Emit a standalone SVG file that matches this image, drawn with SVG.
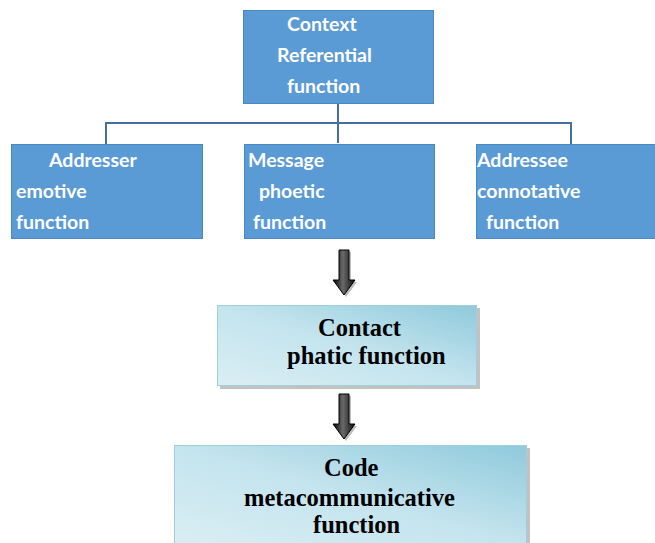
<svg xmlns="http://www.w3.org/2000/svg" width="655" height="543" viewBox="0 0 655 543">
<style>
.blue{fill:#5b9bd5;stroke:#4a88c4;stroke-width:1}
.bt{font-family:Lato,"Open Sans",sans-serif;font-weight:bold;font-size:19.5px;fill:#ffffff}
.st{font-family:"Liberation Serif","Times New Roman",serif;font-weight:bold;font-size:24.5px;fill:#000000}
.cn{stroke:#41719c;stroke-width:2;fill:none}
.shadow{fill:#9a9a9a;opacity:0.6}
.cyan{fill:url(#cg);stroke:#9fcfdc;stroke-width:1}
</style>
<defs>
<linearGradient id="cg" x1="0" y1="1" x2="1" y2="0">
<stop offset="0" stop-color="#daeef4"/>
<stop offset="0.5" stop-color="#c4e4ee"/>
<stop offset="1" stop-color="#8fcadb"/>
</linearGradient>
<linearGradient id="ag" x1="0" y1="0" x2="1" y2="0">
<stop offset="0" stop-color="#000000"/>
<stop offset="0.45" stop-color="#6a6a6a"/>
<stop offset="1" stop-color="#0a0a0a"/>
</linearGradient>
<g id="arrowShape">
<path d="M341,2 H351 V32 H357 L346,47 L335,32 H341 Z" fill="#bdbdbd"/>
<path d="M339,0 H349 V30 H355 L344,45 L333,30 H339 Z" fill="url(#ag)" stroke="#000" stroke-width="1"/>
</g>
</defs>
<rect width="655" height="543" fill="#ffffff"/>
<g id="connectors">
<path class="cn" d="M338,103 V143"/>
<path class="cn" d="M106,123 H571"/>
<path class="cn" d="M106,122 V144"/>
<path class="cn" d="M571,122 V144"/>
<g id="arrow1"><use href="#arrowShape" transform="translate(0,250)"/></g>
<g id="arrow2"><use href="#arrowShape" transform="translate(0,394)"/></g>
</g>
<g id="context">
<rect class="blue" x="243.5" y="10.5" width="190" height="93"/>
<text class="bt" x="287" y="31">Context</text>
<text class="bt" x="277" y="62">Referential</text>
<text class="bt" x="287" y="93">function</text>
</g>
<g id="addresser">
<rect class="blue" x="11.5" y="144.5" width="191" height="94"/>
<text class="bt" x="49" y="167">Addresser</text>
<text class="bt" x="16" y="198">emotive</text>
<text class="bt" x="16" y="229">function</text>
</g>
<g id="message">
<rect class="blue" x="244.5" y="144.5" width="190" height="94"/>
<text class="bt" x="248" y="167">Message</text>
<text class="bt" x="259" y="198">phoetic</text>
<text class="bt" x="253" y="229">function</text>
</g>
<g id="addressee">
<rect class="blue" x="476.5" y="144.5" width="180" height="94"/>
<text class="bt" x="477" y="167">Addressee</text>
<text class="bt" x="477" y="198">connotative</text>
<text class="bt" x="486" y="229">function</text>
</g>
<g id="contact">
<rect class="shadow" x="220" y="308" width="260" height="81"/>
<rect class="cyan" x="217.5" y="305.5" width="259" height="80"/>
<text class="st" x="318" y="336">Contact</text>
<text class="st" x="287" y="364">phatic function</text>
</g>
<g id="code">
<rect class="shadow" x="177" y="448" width="353" height="100"/>
<rect class="cyan" x="174.5" y="445.5" width="352" height="100"/>
<text class="st" x="324" y="476">Code</text>
<text class="st" x="244" y="506">metacommunicative</text>
<text class="st" x="313" y="533">function</text>
</g>
</svg>
